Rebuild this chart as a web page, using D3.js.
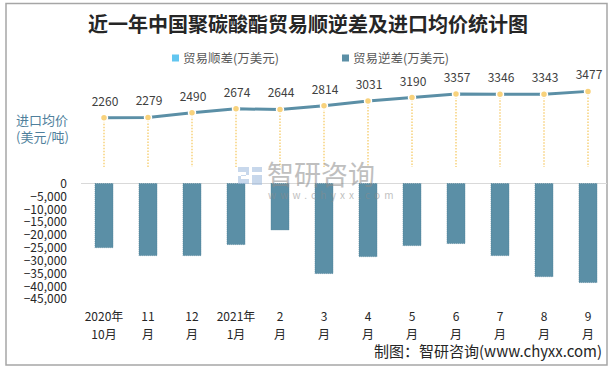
<!DOCTYPE html>
<html>
<head>
<meta charset="utf-8">
<script src="https://cdn.jsdelivr.net/npm/d3@7"></script>
<style>
  body { margin: 0; background: #fff; }
  svg { display: block; font-family: "Noto Sans CJK SC", "Microsoft YaHei", sans-serif; }
</style>
</head>
<body>
<svg id="chart" width="614" height="370"></svg>
<script>
// --- Data ---
const months = ["2020年|10月", "11|月", "12|月", "2021年|1月", "2|月", "3|月", "4|月", "5|月", "6|月", "7|月", "8|月", "9|月"];
const deficit = [-25000, -28100, -28100, -23800, -18100, -35100, -28500, -24200, -23400, -28100, -36300, -38600];
const price = [2260, 2279, 2490, 2674, 2644, 2814, 3031, 3190, 3357, 3346, 3343, 3477];
const yTicks = [0, -5000, -10000, -15000, -20000, -25000, -30000, -35000, -40000, -45000];

const svg = d3.select("#chart");
const width = +svg.attr("width");
const height = +svg.attr("height");

// --- Frame ---
svg.append("rect")
  .attr("x", 6).attr("y", 3.5)
  .attr("width", 601).attr("height", 361.5)
  .attr("fill", "#fff")
  .attr("stroke", "#a6a6a6")
  .attr("stroke-width", 1.5);

// --- Title ---
svg.append("text")
  .attr("x", 308).attr("y", 32)
  .attr("text-anchor", "middle")
  .attr("font-size", 20)
  .attr("font-weight", "bold")
  .attr("fill", "#262626")
  .text("近一年中国聚碳酸酯贸易顺逆差及进口均价统计图");

// --- Legend ---
const legendData = [
  { label: "贸易顺差(万美元)", color: "#62c6f0", x: 172 },
  { label: "贸易逆差(万美元)", color: "#5b8fa6", x: 342 }
];
const legend = svg.append("g");
legend.selectAll("rect")
  .data(legendData)
  .join("rect")
  .attr("x", d => d.x).attr("y", 54.5)
  .attr("width", 7).attr("height", 7)
  .attr("fill", d => d.color);
legend.selectAll("text")
  .data(legendData)
  .join("text")
  .attr("x", d => d.x + 11).attr("y", 62.5)
  .attr("font-size", 12.5)
  .attr("fill", "#595959")
  .text(d => d.label);

// --- Scales ---
const x = d3.scaleBand()
  .domain(months)
  .range([82, 610])
  .paddingInner(0.59)
  .paddingOuter(0.295);

const y = d3.scaleLinear()
  .domain([-45000, 0])
  .range([299, 183.5]);

const y2 = d3.scaleLinear()
  .domain([0, 4000])
  .range([167, 80]);

const cx = d => x(d) + x.bandwidth() / 2;

// --- Y axis (left) ---
const yAxis = svg.append("g")
  .attr("transform", "translate(68,0)")
  .call(d3.axisLeft(y).tickValues(yTicks).tickSize(0).tickPadding(1).tickFormat(d3.format(",")));
yAxis.select(".domain").remove();
yAxis.selectAll("text")
  .attr("font-size", 12)
  .attr("fill", "#262626")
  .attr("font-family", "\"Noto Sans CJK SC\", sans-serif");

// zero line
svg.append("line")
  .attr("x1", 81).attr("x2", 607)
  .attr("y1", y(0)).attr("y2", y(0))
  .attr("stroke", "#d9d9d9")
  .attr("stroke-width", 1);

// --- Bars ---
svg.append("g")
  .selectAll("rect")
  .data(deficit)
  .join("rect")
  .attr("x", (d, i) => x(months[i]))
  .attr("y", y(0))
  .attr("width", x.bandwidth())
  .attr("height", d => y(d) - y(0))
  .attr("fill", "#5b8fa6")
  .attr("stroke", "#4a7c93")
  .attr("stroke-width", 0.6)
  .attr("stroke-dasharray", "1,1");

// --- Drop lines ---
svg.append("g")
  .selectAll("line")
  .data(price)
  .join("line")
  .attr("x1", (d, i) => cx(months[i]))
  .attr("x2", (d, i) => cx(months[i]))
  .attr("y1", d => y2(d))
  .attr("y2", y2(0))
  .attr("stroke", "#f8d27c")
  .attr("stroke-width", 1.5)
  .attr("stroke-dasharray", "1.5,1.5");

// --- Price line ---
const line = d3.line()
  .x((d, i) => cx(months[i]))
  .y(d => y2(d));

svg.append("path")
  .datum(price)
  .attr("fill", "none")
  .attr("stroke", "#5b8fa6")
  .attr("stroke-width", 3)
  .attr("d", line);

svg.append("g")
  .selectAll("circle")
  .data(price)
  .join("circle")
  .attr("cx", (d, i) => cx(months[i]))
  .attr("cy", d => y2(d))
  .attr("r", 3.5)
  .attr("fill", "#f8d27c")
  .attr("stroke", "#fff")
  .attr("stroke-width", 1.5);

svg.append("g")
  .selectAll("text")
  .data(price)
  .join("text")
  .attr("x", (d, i) => cx(months[i]) + 1)
  .attr("y", d => y2(d) - 12)
  .attr("text-anchor", "middle")
  .attr("font-size", 12)
  .attr("fill", "#404040")
  .text(d => d);

// --- Secondary axis label ---
svg.append("text")
  .attr("x", 16).attr("y", 124.5)
  .attr("font-size", 13)
  .attr("fill", "#4f7f9c")
  .text("进口均价");
svg.append("text")
  .attr("x", 16).attr("y", 141.5)
  .attr("font-size", 13)
  .attr("fill", "#4f7f9c")
  .text("(美元/吨)");

// --- X labels ---
const xLabels = svg.append("g")
  .selectAll("text")
  .data(months)
  .join("text")
  .attr("text-anchor", "middle")
  .attr("font-size", 12)
  .attr("fill", "#262626");
xLabels.append("tspan")
  .attr("x", d => cx(d))
  .attr("y", 321)
  .text(d => d.split("|")[0]);
xLabels.append("tspan")
  .attr("x", d => cx(d))
  .attr("y", 338.5)
  .text(d => d.split("|")[1]);

// --- Watermark ---
const wm = svg.append("g").attr("opacity", 0.55);
wm.append("path")
  .attr("d", "M238,167 h11 v8 h-8 v4 h8 v5 h-11 v-8 h8 v-4 h-8 z M252,167 h10 v5 h-10 z M252,175 h10 v10 h-10 z")
  .attr("fill", "#9ab8dc");
wm.append("text")
  .attr("x", 267).attr("y", 185)
  .attr("font-size", 27)
  .attr("fill", "#8c8c8c")
  .text("智研咨询");
wm.append("text")
  .attr("x", 268).attr("y", 199)
  .attr("font-size", 10)
  .attr("letter-spacing", 4.2)
  .attr("fill", "#8c8c8c")
  .text("www.chyxx.com");

// --- Source ---
svg.append("text")
  .attr("x", 602).attr("y", 357)
  .attr("text-anchor", "end")
  .attr("font-size", 15)
  .attr("fill", "#262626")
  .text("制图：智研咨询(www.chyxx.com)");
</script>
</body>
</html>
